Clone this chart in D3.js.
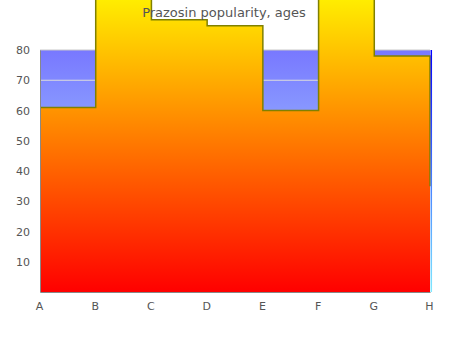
<!DOCTYPE html>
<html>
<head>
<meta charset="utf-8">
<script src="https://cdn.jsdelivr.net/npm/d3@7"></script>
<style>
  html, body { margin: 0; padding: 0; background: #fff; }
  svg { display: block; }
</style>
</head>
<body>
<svg id="chart" width="450" height="350"></svg>
<script>
// ---- data ----
const categories = ["A", "B", "C", "D", "E", "F", "G", "H"];
const popularity = [61, 100, 90, 88, 60, 100, 78, 35];
const yTicks = [10, 20, 30, 40, 50, 60, 70, 80];
const titleText = "Prazosin popularity, ages";

// ---- layout ----
const svg = d3.select("#chart");
const font = "'DejaVu Sans', Verdana, sans-serif";
const x = d3.scalePoint().domain(categories).range([40, 430]);
const y = d3.scaleLinear().domain([0, 80]).range([292, 50]);

const defs = svg.append("defs");
const areaGrad = defs.append("linearGradient")
  .attr("id", "areaGrad").attr("gradientUnits", "userSpaceOnUse")
  .attr("x1", 0).attr("x2", 0).attr("y1", y(0)).attr("y2", y(104));
areaGrad.append("stop").attr("offset", 0).attr("stop-color", "#ff0000");
areaGrad.append("stop").attr("offset", 1).attr("stop-color", "#ffff00");

const bgGrad = defs.append("linearGradient")
  .attr("id", "bgGrad").attr("gradientUnits", "userSpaceOnUse")
  .attr("x1", 0).attr("x2", 0).attr("y1", y(80)).attr("y2", y(0));
bgGrad.append("stop").attr("offset", 0).attr("stop-color", "#7878ff");
bgGrad.append("stop").attr("offset", 1).attr("stop-color", "#b8f8ff");

const edgeGrad = defs.append("linearGradient")
  .attr("id", "edgeGrad").attr("gradientUnits", "userSpaceOnUse")
  .attr("x1", 0).attr("x2", 0).attr("y1", y(80)).attr("y2", y(0));
edgeGrad.append("stop").attr("offset", 0).attr("stop-color", "#0000ff");
edgeGrad.append("stop").attr("offset", 1).attr("stop-color", "#80e8ff");

const [x0, x1] = x.range();

// plot background
svg.append("rect")
  .attr("x", x0).attr("y", y(80))
  .attr("width", x1 - x0).attr("height", y(0) - y(80))
  .attr("fill", "url(#bgGrad)");

// grid lines
svg.append("g").selectAll("line").data(yTicks).join("line")
  .attr("x1", x0).attr("x2", x1)
  .attr("y1", d => y(d)).attr("y2", d => y(d))
  .attr("stroke", d => d === 80 ? "#c8c8c8" : "#dcdcdc")
  .attr("stroke-width", 1);

// area
const pts = categories.map((c, i) => [c, popularity[i]]);
const area = d3.area().curve(d3.curveStepAfter)
  .x(d => x(d[0])).y0(y(0)).y1(d => y(d[1]));
svg.append("path").datum(pts).attr("d", area).attr("fill", "url(#areaGrad)");

const line = d3.line().curve(d3.curveStepAfter)
  .x(d => x(d[0])).y(d => y(d[1]));
svg.append("path").datum(pts).attr("d", line)
  .attr("fill", "none").attr("stroke", "#808000").attr("stroke-width", 1.5);

// right edge
svg.append("line")
  .attr("x1", x1 + 1.3).attr("x2", x1 + 1.3)
  .attr("y1", y(80)).attr("y2", y(0))
  .attr("stroke", "url(#edgeGrad)").attr("stroke-width", 1.5);

// axes
const yAxis = svg.append("g").attr("transform", `translate(${x0},0)`)
  .call(d3.axisLeft(y).tickValues(yTicks).tickSize(0).tickPadding(10));
const xAxis = svg.append("g").attr("transform", `translate(0,${y(0)})`)
  .call(d3.axisBottom(x).tickSize(0).tickPadding(10));
[yAxis, xAxis].forEach(g => {
  g.select(".domain").attr("stroke", "#888").attr("stroke-width", 1);
  g.selectAll("text").attr("fill", "#555").style("font-family", font).style("font-size", "11px");
});
xAxis.selectAll(".tick text").attr("dx", "-1");

// title
svg.append("text")
  .attr("x", 224).attr("y", 17)
  .attr("text-anchor", "middle")
  .attr("fill", "#555")
  .style("font-family", font).style("font-size", "13px")
  .text(titleText);
</script>
</body>
</html>
